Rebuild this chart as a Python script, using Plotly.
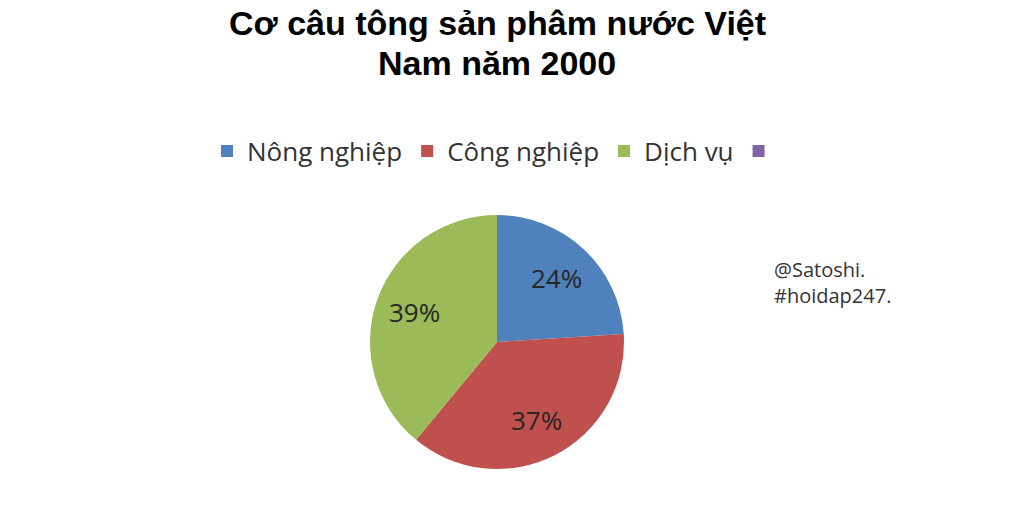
import math
import plotly.graph_objects as go

labels = ["Nông nghiệp", "Công nghiệp", "Dịch vụ", " "]
values = [24, 37, 39, 0]
colors = ["#4F81BD", "#C0504D", "#9BBB59", "#8064A2"]
title_lines = ["Cơ câu tông sản phâm nước Việt", "Nam năm 2000"]
note_text = "@Satoshi.<br>#hoidap247."

W, H = 1024, 515
OFF = 8  # page body margin offset (px)
# pie placement (pixels, in screenshot coordinates)
cx, cy, r = 497, 342, 127


def px_x(x):
    return (x - OFF) / W


def px_y(y):
    return 1 - (y - OFF) / H


fig = go.Figure()
fig.add_trace(go.Pie(
    labels=labels,
    values=values,
    textinfo="none",
    marker=dict(colors=colors, line=dict(width=0)),
    sort=False,
    direction="clockwise",
    rotation=0,
    domain=dict(x=[px_x(cx - r), px_x(cx + r)], y=[px_y(cy + r), px_y(cy - r)]),
    showlegend=True,
))

# percentage labels placed along each slice's mid-angle
total = sum(values)
annotations = []
cum = 0
for v in values:
    if v > 0:
        mid = (cum + v / 2) / total * 2 * math.pi
        lx = cx + 0.69 * r * math.sin(mid)
        ly = cy - 0.69 * r * math.cos(mid)
        annotations.append(dict(text=f"{round(v / total * 100)}%", x=px_x(lx), y=px_y(ly),
                                xref="paper", yref="paper", xanchor="center", yanchor="middle",
                                showarrow=False,
                                font=dict(family="Open Sans, Liberation Sans, sans-serif", size=26, color="#262626")))
    cum += v

# two-line bold title
for line, ly in zip(title_lines, [23, 63]):
    annotations.append(dict(text=line, x=px_x(497), y=px_y(ly), xref="paper", yref="paper",
                            xanchor="center", yanchor="middle", showarrow=False, align="center",
                            font=dict(family="Liberation Sans, Arial, sans-serif", size=34,
                                      color="#000000", weight="bold")))
annotations.append(dict(text=note_text, x=px_x(772), y=px_y(282), xref="paper", yref="paper",
                        xanchor="left", yanchor="middle", align="left", showarrow=False,
                        font=dict(family="Open Sans, Liberation Sans, sans-serif", size=20, color="#333333")))

fig.update_layout(
    width=W, height=H,
    paper_bgcolor="white", plot_bgcolor="white",
    margin=dict(l=0, r=0, t=0, b=0),
    legend=dict(orientation="h", x=(194 + 5) / W, xanchor="left", y=1 - 143 / H, yanchor="middle",
                font=dict(family="Open Sans, Liberation Sans, sans-serif", size=26, color="#333333"),
                itemwidth=30, traceorder="normal"),
    annotations=annotations,
)

fig.write_html("out.html")
